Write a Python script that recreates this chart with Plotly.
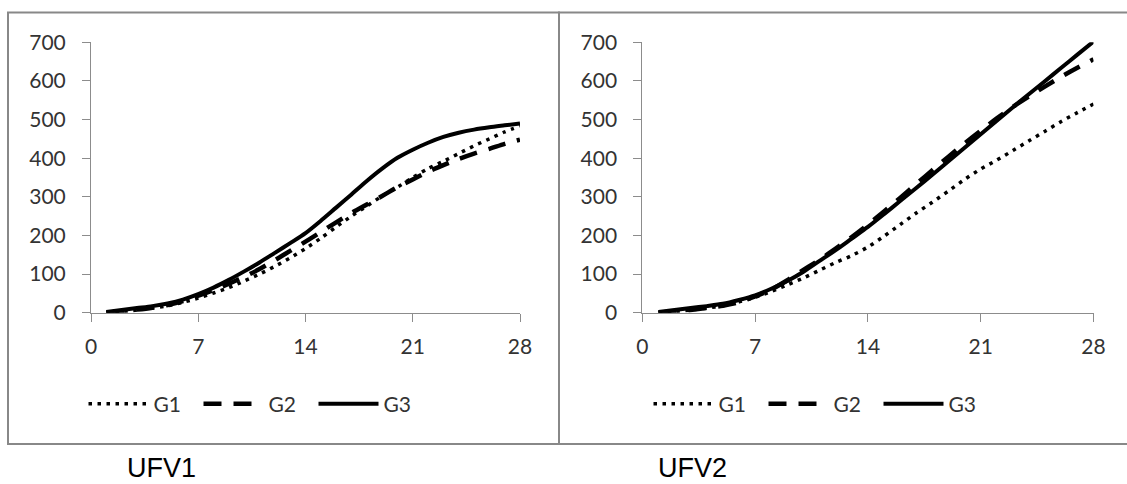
import plotly.graph_objects as go

days = list(range(1, 29))

# UFV1 panel
ufv1_g1 = [0, 3, 7, 12, 18, 27, 38, 51, 65, 82, 100, 120, 142, 166,
           193, 222, 250, 276, 302, 325, 350, 373, 392, 412, 432, 450, 468, 483]
ufv1_g2 = [0, 4, 8, 13, 20, 30, 44, 58, 75, 93, 113, 136, 160, 184,
           209, 234, 258, 280, 302, 325, 345, 365, 382, 398, 412, 424, 437, 448]
ufv1_g3 = [2, 7, 12, 17, 24, 34, 48, 65, 85, 107, 130, 155, 180, 206,
           238, 272, 306, 341, 373, 401, 422, 440, 455, 466, 474, 480, 485, 490]

# UFV2 panel
ufv2_g1 = [0, 3, 7, 12, 18, 28, 40, 55, 72, 90, 110, 130, 148, 170,
           198, 228, 258, 286, 315, 345, 372, 395, 420, 445, 470, 495, 518, 540]
ufv2_g2 = [0, 3, 7, 12, 18, 27, 42, 60, 84, 111, 137, 166, 196, 228,
           262, 297, 333, 369, 404, 438, 471, 503, 533, 560, 586, 611, 634, 656]
ufv2_g3 = [2, 7, 12, 17, 23, 33, 45, 62, 82, 106, 134, 162, 192, 222,
           255, 289, 323, 357, 392, 427, 462, 497, 532, 566, 600, 634, 668, 702]

series_names = ["G1", "G2", "G3"]
panel_titles = ["UFV1", "UFV2"]
x_ticks = [0, 7, 14, 21, 28]
y_ticks = [0, 100, 200, 300, 400, 500, 600, 700]

W, H = 1127, 484
FONT = "Lato"
TXT = "#333333"
AX = "#8c8c8c"

styles = [
    dict(color="black", width=3.5, dash="3.5px,5.5px"),
    dict(color="black", width=4.5, dash="18px,12px"),
    dict(color="black", width=4, dash="solid"),
]

fig = go.Figure()
panels = [
    ([ufv1_g1, ufv1_g2, ufv1_g3], "x", "y", "legend"),
    ([ufv2_g1, ufv2_g2, ufv2_g3], "x2", "y2", "legend2"),
]
for data, xa, ya, lg in panels:
    for name, vals, st in zip(series_names, data, styles):
        fig.add_trace(go.Scatter(
            x=days, y=vals, name=name, mode="lines",
            line=dict(shape="spline", smoothing=0.8, **st),
            xaxis=xa, yaxis=ya, legend=lg, showlegend=True,
        ))

def px_x(p):
    return p / W

def px_y(p):
    return 1 - p / H

axis_common = dict(
    showgrid=False, zeroline=False, showline=True, linecolor=AX, linewidth=1,
    ticks="outside", tickcolor=AX, ticklen=8, tickwidth=1, automargin=False,
    tickfont=dict(family=FONT, size=21, color=TXT),
)

legend_common = dict(
    orientation="h", xanchor="center", yanchor="middle",
    font=dict(family=FONT, size=21, color=TXT), itemwidth=60,
    entrywidth=40, entrywidthmode="pixels",
    bgcolor="rgba(0,0,0,0)", tracegroupgap=0,
)

fig.update_layout(
    width=W, height=H,
    margin=dict(l=0, r=0, t=0, b=0, autoexpand=False),
    paper_bgcolor="white", plot_bgcolor="white",
    xaxis=dict(domain=[px_x(91), px_x(520)], range=[0, 28], tickvals=x_ticks,
               anchor="y", ticklabelstandoff=7, **axis_common),
    yaxis=dict(domain=[px_y(312.7), px_y(42.3)], range=[0, 700], tickvals=y_ticks,
               anchor="x", ticklabelstandoff=12, **axis_common),
    xaxis2=dict(domain=[px_x(642.3), px_x(1093.5)], range=[0, 28], tickvals=x_ticks,
                anchor="y2", ticklabelstandoff=7, **axis_common),
    yaxis2=dict(domain=[px_y(312.7), px_y(42.3)], range=[0, 700], tickvals=y_ticks,
                anchor="x2", ticklabelstandoff=12, **axis_common),
    legend=dict(x=px_x(256), y=px_y(404), **legend_common),
    legend2=dict(x=px_x(821), y=px_y(404), **legend_common),
    showlegend=True,
)

# panel borders
fig.add_shape(type="rect", xref="paper", yref="paper",
              x0=px_x(8), x1=px_x(559), y0=px_y(444), y1=px_y(12.5),
              line=dict(color="#888888", width=2), layer="below")
fig.add_shape(type="rect", xref="paper", yref="paper",
              x0=px_x(559), x1=px_x(1140), y0=px_y(444), y1=px_y(12.5),
              line=dict(color="#888888", width=2), layer="below")

for title, cx in zip(panel_titles, [161, 692]):
    fig.add_annotation(text=title, xref="paper", yref="paper", x=px_x(cx), y=0,
                       xanchor="center", yanchor="bottom", showarrow=False, borderpad=0,
                       font=dict(family="Liberation Sans", size=27, color="black"))

fig.write_html(
    "out.html",
    post_script="document.body.style.margin='0';document.body.style.overflow='hidden';",
)
